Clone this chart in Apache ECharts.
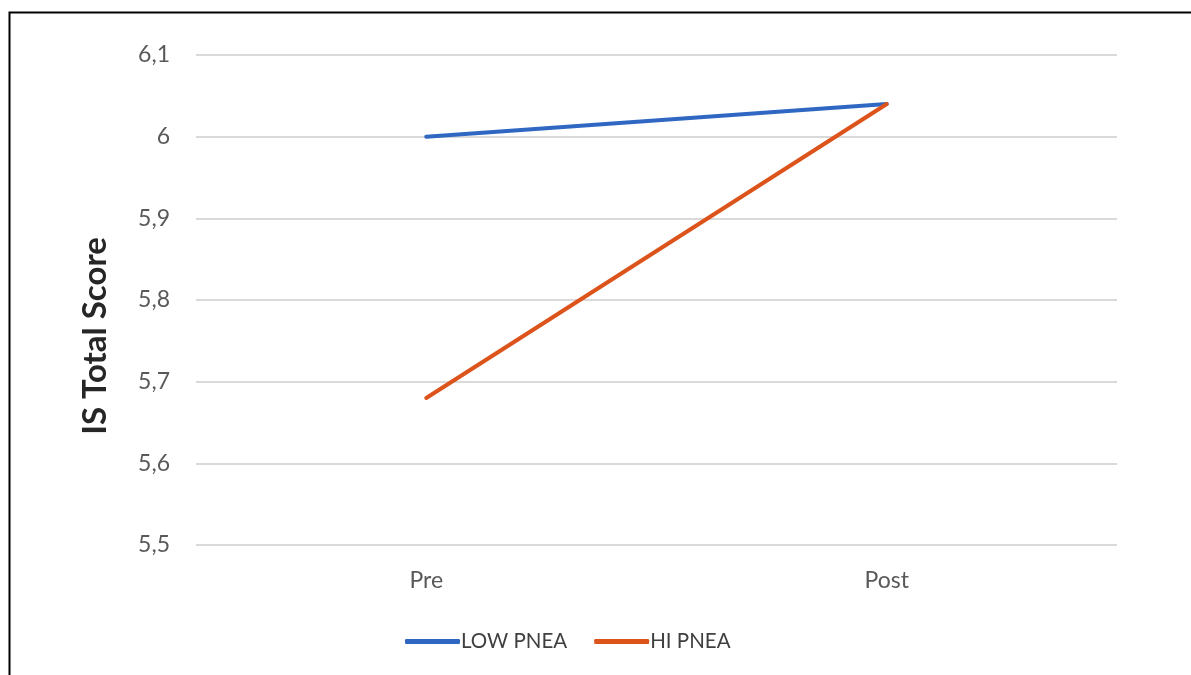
<!DOCTYPE html>
<html>
<head>
<meta charset="utf-8">
<script src="https://cdn.jsdelivr.net/npm/echarts@6/dist/echarts.min.js"></script>
<style>
  html, body { margin: 0; padding: 0; background: #fff; }
  #chart { width: 1191px; height: 675px; }
</style>
</head>
<body>
<div id="chart"></div>
<script>
// Time points and group means
const categories = ['Pre', 'Post'];
const lowPnea = [6.0, 6.04];
const hiPnea = [5.68, 6.04];
const seriesNames = ['LOW PNEA', 'HI PNEA'];
const yAxisTitle = 'IS Total Score';

const FONT = 'Lato, "Open Sans", sans-serif';
const chart = echarts.init(document.getElementById('chart'), null, { renderer: 'canvas' });

chart.setOption({
  backgroundColor: '#ffffff',
  animation: false,
  graphic: [{
    type: 'rect',
    shape: { x: 9.5, y: 12.5, width: 1400, height: 900 },
    style: { fill: 'none', stroke: '#000', lineWidth: 2 },
    silent: true
  }],
  grid: { left: 196, right: 74, top: 55, bottom: 130, containLabel: false },
  legend: {
    data: seriesNames,
    bottom: 18,
    left: 400,
    icon: 'roundRect',
    itemWidth: 55,
    itemHeight: 5,
    itemGap: 27,
    textStyle: { fontFamily: FONT, fontSize: 20.5, color: '#404040', padding: [0, 0, 0, -4] }
  },
  xAxis: {
    type: 'category',
    data: categories,
    boundaryGap: true,
    axisLine: { show: false },
    axisTick: { show: false },
    axisLabel: { fontFamily: FONT, fontSize: 23, color: '#595959', margin: 24 }
  },
  yAxis: {
    type: 'value',
    min: 5.5,
    max: 6.1,
    interval: 0.1,
    name: yAxisTitle,
    nameLocation: 'middle',
    nameRotate: 90,
    nameGap: 84,
    // title sits a little below the plot's vertical centre
    nameTextStyle: {
      fontFamily: FONT, fontSize: 33, fontWeight: 'bold', color: '#262626',
      padding: [0, 72, 0, 0]
    },
    axisLine: { show: false },
    axisTick: { show: false },
    splitLine: { lineStyle: { color: '#d9d9d9', width: 2 } },
    axisLabel: {
      fontFamily: FONT, fontSize: 23, color: '#595959', margin: 26,
      formatter: v => (Math.round(v * 10) / 10).toString().replace('.', ',')
    }
  },
  series: [
    {
      name: seriesNames[0], type: 'line', data: lowPnea,
      symbol: 'none', lineStyle: { color: '#2f67c2', width: 4, cap: 'round' },
      itemStyle: { color: '#2f67c2' }
    },
    {
      name: seriesNames[1], type: 'line', data: hiPnea,
      symbol: 'none', lineStyle: { color: '#dc541b', width: 4, cap: 'round' },
      itemStyle: { color: '#dc541b' }
    }
  ]
});
</script>
</body>
</html>
